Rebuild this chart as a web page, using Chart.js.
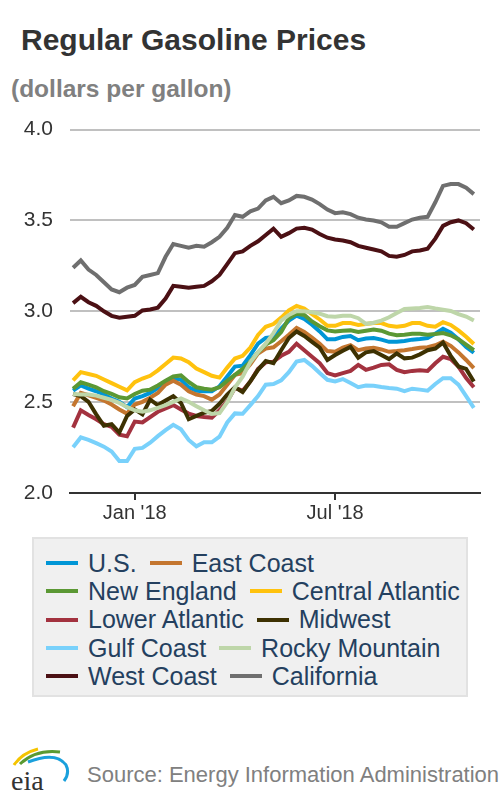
<!DOCTYPE html>
<html>
<head>
<meta charset="utf-8">
<script src="https://cdn.jsdelivr.net/npm/chart.js@4.4.1/dist/chart.umd.min.js"></script>
<style>
  body { margin: 0; width: 500px; height: 800px; background: #fff; position: relative; overflow: hidden;
         font-family: "Liberation Sans", Arial, sans-serif; }
  #title { position: absolute; left: 21px; top: 25px; font-size: 30px; line-height: 30px; font-weight: bold; color: #333; white-space: nowrap; }
  #sub { position: absolute; left: 11px; top: 77px; font-size: 24.5px; line-height: 24.5px; font-weight: bold; color: #808080; white-space: nowrap; }
  #wrap { position: absolute; left: 0; top: 100px; width: 500px; height: 430px; }
  #legend { position: absolute; left: 32px; top: 537px; width: 436px; height: 160px; box-sizing: border-box;
            background: #f0f0f0; border: 2px solid #e2e2e2; padding: 10px 0 0 12px; }
  .row { height: 28.3px; display: flex; align-items: center; white-space: nowrap; }
  .item { display: flex; align-items: center; margin-right: 13px; font-size: 25px; color: #24405f; }
  .swatch { width: 32px; height: 4px; margin-right: 10px; }
  #logo { position: absolute; left: 8px; top: 745px; }
  #source { position: absolute; left: 87px; top: 764px; font-size: 22px; line-height: 22px; color: #808080; white-space: nowrap; }
</style>
</head>
<body>
<div id="title">Regular Gasoline Prices</div>
<div id="sub">(dollars per gallon)</div>
<div id="wrap"><canvas id="chart"></canvas></div>
<div id="legend"></div>
<svg id="logo" width="62" height="50" viewBox="0 0 62 50">
  <path d="M6 20 Q14 8 30 4" stroke="#f5c400" stroke-width="3" fill="none"/>
  <path d="M12 19 Q28 4 52 7" stroke="#5a9a32" stroke-width="3" fill="none"/>
  <path d="M20 17 Q48 6 58 20 Q62 28 56 36" stroke="#1aa0dc" stroke-width="3" fill="none"/>
  <text x="3" y="45" font-family="'Liberation Serif', 'DejaVu Serif', serif" font-size="28" fill="#333">eia</text>
</svg>
<div id="source">Source: Energy Information Administration</div>

<script>
// weekly retail prices, Nov 2017 - Nov 2018
const weeks = [
  '2017-11-06', '2017-11-13', '2017-11-20', '2017-11-27', '2017-12-04', '2017-12-11', '2017-12-18', '2017-12-25',
  '2018-01-01', '2018-01-08', '2018-01-15', '2018-01-22', '2018-01-29', '2018-02-05', '2018-02-12', '2018-02-19',
  '2018-02-26', '2018-03-05', '2018-03-12', '2018-03-19', '2018-03-26', '2018-04-02', '2018-04-09', '2018-04-16',
  '2018-04-23', '2018-04-30', '2018-05-07', '2018-05-14', '2018-05-21', '2018-05-28', '2018-06-04', '2018-06-11',
  '2018-06-18', '2018-06-25', '2018-07-02', '2018-07-09', '2018-07-16', '2018-07-23', '2018-07-30', '2018-08-06',
  '2018-08-13', '2018-08-20', '2018-08-27', '2018-09-03', '2018-09-10', '2018-09-17', '2018-09-24', '2018-10-01',
  '2018-10-08', '2018-10-15', '2018-10-22', '2018-10-29', '2018-11-05'
];
const tickWeeks = ['2018-01-01', '2018-07-02'];
const tickText = ["Jan '18", "Jul '18"];

const usPrice = [2.563, 2.592, 2.574, 2.560, 2.542, 2.520, 2.502, 2.473, 2.520, 2.533, 2.551, 2.578, 2.605, 2.632, 2.623, 2.582,
  2.563, 2.560, 2.560, 2.587, 2.641, 2.696, 2.701, 2.759, 2.822, 2.853, 2.859, 2.904, 2.949, 2.976, 2.958, 2.926,
  2.889, 2.846, 2.846, 2.859, 2.864, 2.841, 2.850, 2.853, 2.844, 2.832, 2.832, 2.837, 2.844, 2.848, 2.853, 2.877,
  2.904, 2.882, 2.846, 2.804, 2.772];
const eastCoast = [2.478, 2.551, 2.538, 2.524, 2.509, 2.487, 2.460, 2.437, 2.487, 2.502, 2.524, 2.551, 2.596, 2.618, 2.596, 2.560,
  2.542, 2.533, 2.514, 2.542, 2.596, 2.650, 2.659, 2.708, 2.768, 2.795, 2.802, 2.835, 2.871, 2.909, 2.886, 2.855,
  2.822, 2.781, 2.777, 2.800, 2.813, 2.786, 2.795, 2.799, 2.790, 2.777, 2.781, 2.786, 2.792, 2.799, 2.802, 2.813,
  2.832, 2.810, 2.774, 2.732, 2.687];
const newEngland = [2.574, 2.609, 2.596, 2.582, 2.560, 2.545, 2.527, 2.520, 2.545, 2.563, 2.569, 2.592, 2.618, 2.641, 2.647, 2.611,
  2.582, 2.574, 2.569, 2.582, 2.618, 2.650, 2.683, 2.723, 2.774, 2.817, 2.841, 2.886, 2.962, 2.986, 2.980, 2.944,
  2.918, 2.895, 2.889, 2.893, 2.895, 2.886, 2.893, 2.900, 2.893, 2.877, 2.868, 2.871, 2.877, 2.877, 2.871, 2.875,
  2.880, 2.868, 2.846, 2.817, 2.786];
const centralAtlantic = [2.620, 2.665, 2.655, 2.645, 2.625, 2.605, 2.585, 2.565, 2.610, 2.630, 2.645, 2.675, 2.710, 2.745, 2.740, 2.720,
  2.685, 2.665, 2.645, 2.635, 2.690, 2.740, 2.755, 2.800, 2.870, 2.915, 2.930, 2.965, 3.005, 3.030, 3.015, 2.985,
  2.955, 2.920, 2.920, 2.935, 2.935, 2.925, 2.930, 2.935, 2.935, 2.920, 2.915, 2.920, 2.935, 2.935, 2.920, 2.915,
  2.940, 2.925, 2.895, 2.860, 2.820];
const lowerAtlantic = [2.360, 2.455, 2.429, 2.406, 2.379, 2.364, 2.321, 2.312, 2.393, 2.388, 2.418, 2.447, 2.466, 2.484, 2.460, 2.437,
  2.424, 2.418, 2.415, 2.455, 2.505, 2.578, 2.563, 2.614, 2.683, 2.719, 2.723, 2.755, 2.777, 2.822, 2.786, 2.750,
  2.714, 2.660, 2.647, 2.660, 2.672, 2.705, 2.678, 2.690, 2.705, 2.708, 2.678, 2.665, 2.672, 2.676, 2.672, 2.714,
  2.750, 2.737, 2.696, 2.632, 2.582];
const midwest = [2.545, 2.533, 2.502, 2.433, 2.370, 2.379, 2.333, 2.424, 2.460, 2.433, 2.514, 2.484, 2.509, 2.533, 2.496, 2.406,
  2.424, 2.442, 2.451, 2.491, 2.542, 2.582, 2.556, 2.614, 2.678, 2.726, 2.714, 2.786, 2.853, 2.889, 2.864, 2.832,
  2.800, 2.732, 2.759, 2.783, 2.804, 2.745, 2.774, 2.781, 2.759, 2.737, 2.768, 2.741, 2.745, 2.763, 2.786, 2.795,
  2.828, 2.755, 2.696, 2.683, 2.614];
const gulfCoast = [2.252, 2.306, 2.292, 2.274, 2.255, 2.228, 2.176, 2.176, 2.243, 2.248, 2.277, 2.313, 2.346, 2.375, 2.351, 2.292,
  2.257, 2.279, 2.279, 2.310, 2.388, 2.438, 2.436, 2.484, 2.533, 2.596, 2.600, 2.620, 2.665, 2.723, 2.732, 2.700,
  2.660, 2.623, 2.614, 2.627, 2.605, 2.582, 2.592, 2.590, 2.583, 2.578, 2.574, 2.560, 2.574, 2.569, 2.563, 2.600,
  2.632, 2.632, 2.596, 2.533, 2.469];
const rockyMountain = [2.545, 2.542, 2.542, 2.536, 2.524, 2.513, 2.496, 2.473, 2.455, 2.447, 2.455, 2.469, 2.484, 2.502, 2.520, 2.502,
  2.478, 2.455, 2.435, 2.440, 2.500, 2.580, 2.640, 2.720, 2.775, 2.822, 2.880, 2.949, 2.980, 3.000, 3.000, 2.995,
  2.987, 2.973, 2.970, 2.976, 2.976, 2.962, 2.931, 2.937, 2.949, 2.967, 2.991, 3.013, 3.016, 3.018, 3.024, 3.016,
  3.009, 3.002, 2.985, 2.971, 2.949];
const westCoast = [3.045, 3.080, 3.050, 3.030, 3.000, 2.975, 2.965, 2.970, 2.975, 3.005, 3.010, 3.020, 3.070, 3.140, 3.135, 3.130,
  3.135, 3.140, 3.165, 3.200, 3.260, 3.320, 3.330, 3.360, 3.385, 3.420, 3.455, 3.410, 3.430, 3.455, 3.460, 3.450,
  3.425, 3.405, 3.395, 3.390, 3.380, 3.360, 3.350, 3.340, 3.330, 3.305, 3.300, 3.310, 3.330, 3.335, 3.345, 3.400,
  3.470, 3.490, 3.500, 3.485, 3.450];
const california = [3.240, 3.280, 3.230, 3.200, 3.160, 3.120, 3.105, 3.130, 3.145, 3.190, 3.200, 3.210, 3.300, 3.370, 3.360, 3.350,
  3.360, 3.355, 3.380, 3.410, 3.460, 3.530, 3.520, 3.550, 3.565, 3.610, 3.630, 3.595, 3.610, 3.635, 3.630, 3.615,
  3.590, 3.560, 3.540, 3.545, 3.535, 3.515, 3.505, 3.500, 3.490, 3.465, 3.465, 3.485, 3.505, 3.515, 3.520, 3.600,
  3.690, 3.700, 3.700, 3.680, 3.645];

const seriesNames = ['U.S.', 'East Coast', 'New England', 'Central Atlantic', 'Lower Atlantic',
  'Midwest', 'Gulf Coast', 'Rocky Mountain', 'West Coast', 'California'];
const seriesData = [usPrice, eastCoast, newEngland, centralAtlantic, lowerAtlantic,
  midwest, gulfCoast, rockyMountain, westCoast, california];
const seriesColors = ['#0096d6', '#c4762f', '#5b9834', '#ffc20e', '#a3323f',
  '#3d3102', '#79d1fb', '#bed6a9', '#4b1014', '#6f6f6f'];

const datasets = seriesNames.map((name, i) => ({
  label: name,
  data: seriesData[i].map((v, w) => ({ x: w, y: v })),
  borderColor: seriesColors[i],
  borderWidth: 4,
  pointRadius: 0,
  tension: 0,
  order: seriesNames.length - i,   // later series drawn on top
}));

new Chart(document.getElementById('chart'), {
  type: 'line',
  data: { datasets: datasets },
  options: {
    responsive: true,
    maintainAspectRatio: false,
    animation: false,
    layout: { padding: { top: 23, right: 20, bottom: 0, left: 0 } },
    plugins: { legend: { display: false }, tooltip: { enabled: false } },
    scales: {
      x: {
        type: 'linear',
        min: -0.4,
        max: 52.8,
        afterBuildTicks: axis => {
          axis.ticks = tickWeeks.map(w => ({ value: weeks.indexOf(w) }));
        },
        afterFit: axis => { axis.height = 37; },
        ticks: {
          callback: value => tickText[tickWeeks.indexOf(weeks[value])],
          color: '#333',
          font: { family: '"Liberation Sans", Arial, sans-serif', size: 20 },
          padding: 1,
          maxRotation: 0,
        },
        grid: { drawOnChartArea: false, tickLength: 7, color: '#333', lineWidth: 2 },
        border: { display: true, color: '#333', width: 2 },
      },
      y: {
        min: 2,
        max: 4,
        afterFit: axis => { axis.width = 70; },
        ticks: {
          stepSize: 0.5,
          callback: value => value.toFixed(1),
          color: '#333',
          font: { family: '"Liberation Sans", Arial, sans-serif', size: 21 },
          padding: 17,
        },
        grid: {
          drawTicks: false,
          lineWidth: 2,
          color: c => (c.tick && c.tick.value === 2 ? 'rgba(0,0,0,0)' : '#c0c0c0'),
        },
        border: { display: false },
      },
    },
  },
});

// legend, two entries per row like the original
const legend = document.getElementById('legend');
for (let r = 0; r < seriesNames.length; r += 2) {
  const row = document.createElement('div');
  row.className = 'row';
  [r, r + 1].forEach(i => {
    const item = document.createElement('span');
    item.className = 'item';
    const sw = document.createElement('span');
    sw.className = 'swatch';
    sw.style.background = seriesColors[i];
    item.appendChild(sw);
    item.appendChild(document.createTextNode(seriesNames[i]));
    row.appendChild(item);
  });
  legend.appendChild(row);
}
</script>
</body>
</html>
